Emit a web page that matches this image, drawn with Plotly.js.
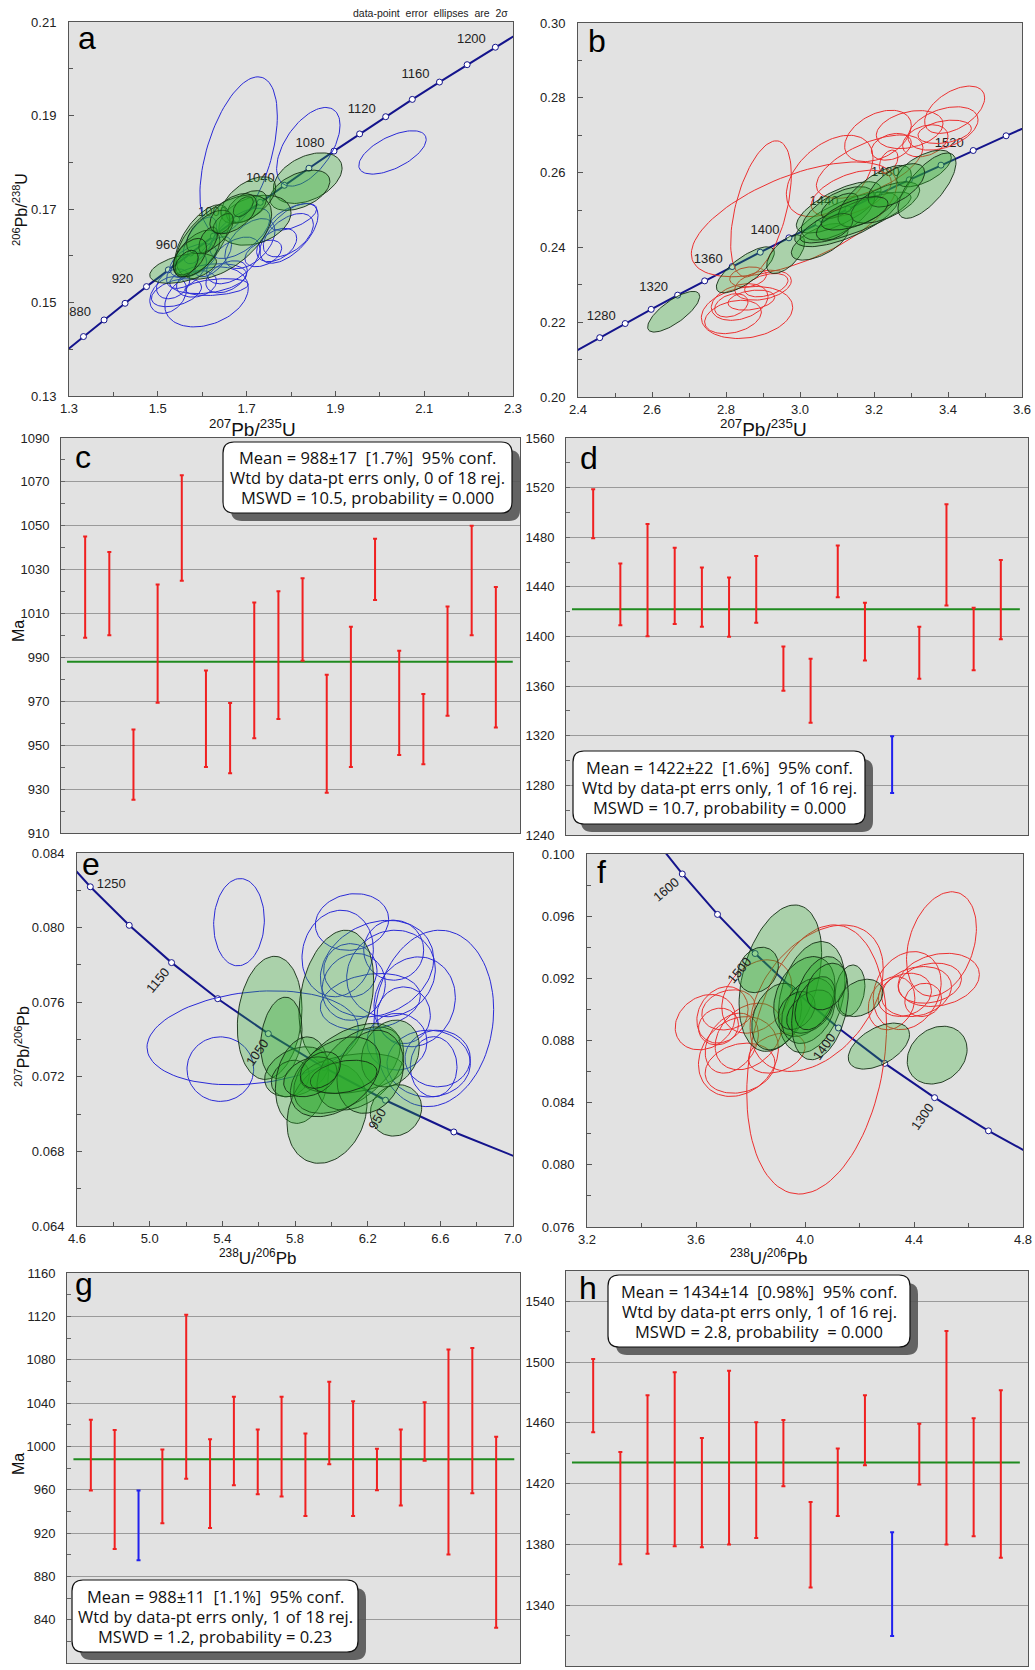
<!DOCTYPE html>
<html><head><meta charset="utf-8">
<script src="https://cdn.plot.ly/plotly-3.0.1.min.js"></script>
<style>html,body{margin:0;padding:0;background:#fff}#chart{width:1035px;height:1670px}</style>
</head><body><div id="chart"></div>
<script>
// ---------------- DATA ----------------
// ellipses: [centre x, centre y, 2s half-width x, 2s half-height y, error correlation]
const aBlue = [
[1.682,0.1815,0.0872,0.01677,0.5],[1.839,0.1833,0.0714,0.00842,0.55],[2.0286,0.1821,0.0759,0.00464,0.6],
[1.6098,0.1512,0.094,0.00642,0.3],[1.5233,0.1516,0.0414,0.00393,0.3],[1.5421,0.1521,0.0564,0.0030,0.4],
[1.6135,0.1551,0.0865,0.00321,0.3],[1.5872,0.1540,0.0451,0.00285,0.2],[1.6549,0.1555,0.0466,0.00343,0.4],
[1.5647,0.1569,0.0451,0.0039,0.5],[1.6699,0.1590,0.0602,0.0050,0.5],[1.7075,0.1626,0.0564,0.00535,0.5],
[1.7955,0.1648,0.0654,0.0064,0.6],[1.794,0.1644,0.0564,0.00464,0.5],[1.7677,0.1623,0.0451,0.00357,0.4],
[1.8053,0.1683,0.0526,0.00285,0.6],[1.6248,0.1598,0.0414,0.0043,0.6],[1.5947,0.1633,0.0376,0.0050,0.6],
[1.5346,0.1540,0.0376,0.0032,0.3],[1.6323,0.1533,0.0714,0.0018,0.3],[1.685,0.1648,0.0677,0.0054,0.6],
[1.7376,0.1605,0.0414,0.00285,0.4],[1.5797,0.1590,0.0526,0.0036,0.5]];
const aGreen = [
[1.8376,0.1766,0.0774,0.00542,0.4],[1.82,0.1740,0.0675,0.0043,0.45],[1.7188,0.1676,0.0812,0.00535,0.3],
[1.7038,0.1719,0.0617,0.0050,0.55],[1.70,0.1705,0.0451,0.00343,0.5],[1.60,0.1632,0.062,0.0077,0.6],
[1.6489,0.1640,0.1075,0.0090,0.55],[1.5571,0.1573,0.0752,0.0032,0.45],[1.5872,0.1605,0.0526,0.0050,0.55],
[1.6173,0.1651,0.0526,0.00464,0.55],[1.6135,0.1633,0.0211,0.00285,0.5],[1.6474,0.1669,0.0226,0.00214,0.5],
[1.6925,0.1705,0.0226,0.00214,0.5],[1.5722,0.1598,0.0376,0.0039,0.5],[1.6699,0.1690,0.0526,0.0043,0.5],
[1.5647,0.1583,0.0263,0.00285,0.45]];
const bRed = [
[2.8946,0.2503,0.0820,0.0182,0.5],[2.9838,0.2475,0.2775,0.01534,0.6],[3.0802,0.2591,0.1171,0.01088,0.45],
[3.2108,0.2698,0.0901,0.00687,0.4],[3.2964,0.2715,0.0901,0.00508,0.3],[3.418,0.2768,0.0811,0.00633,0.5],
[3.3865,0.2718,0.0946,0.0058,0.4],[3.3387,0.2685,0.0613,0.00428,0.3],[3.391,0.2709,0.0721,0.00312,0.3],
[3.2396,0.2629,0.0252,0.00312,0.4],[3.1883,0.2616,0.1441,0.00847,0.6],[2.8568,0.2226,0.1234,0.00696,0.2],
[2.8369,0.2254,0.0766,0.0049,0.3],[2.8144,0.2245,0.045,0.00312,0.3],[2.90,0.2299,0.0766,0.0040,0.3],
[2.8189,0.2214,0.0766,0.00446,0.3],[2.909,0.2299,0.0586,0.00312,0.4],[2.8685,0.2259,0.0631,0.00268,0.3],
[2.8595,0.2321,0.0495,0.00268,0.2],[3.2468,0.2669,0.0541,0.00357,0.3],[3.1387,0.2544,0.1081,0.00624,0.5]];
const bGreen = [
[2.6586,0.2228,0.0703,0.00544,0.75],[2.8523,0.2340,0.0784,0.00616,0.75],[2.9613,0.2382,0.0514,0.00517,0.6],
[3.0532,0.2415,0.0766,0.0049,0.6],[3.1252,0.2475,0.1396,0.00731,0.7],[3.1045,0.2507,0.1144,0.00687,0.7],
[3.1027,0.2491,0.0991,0.00714,0.6],[3.1072,0.2511,0.0495,0.00339,0.6],[3.15,0.2480,0.15,0.0068,0.8],
[3.2018,0.2537,0.0991,0.00821,0.7],[3.2306,0.2520,0.0928,0.00553,0.6],[3.3351,0.2611,0.0739,0.0049,0.6],
[3.3432,0.2565,0.0784,0.00874,0.7],[3.2604,0.2566,0.0766,0.0058,0.6],[3.0937,0.2455,0.0495,0.00357,0.5],
[3.1477,0.2491,0.0901,0.00446,0.6]];
const eBlue = [
[5.4918,0.08029,0.1395,0.00234,0.05],[5.567,0.07409,0.5817,0.00252,0.2],[5.389,0.072411,0.1835,0.00173,0.0],
[6.1138,0.08030,0.2018,0.00152,0.1],[6.0349,0.07861,0.1963,0.00232,0.1],[6.2514,0.0778,0.3119,0.00259,0.2],
[6.3285,0.07754,0.244,0.00232,0.1],[6.5633,0.07513,0.3303,0.00473,0.1],[6.4587,0.07602,0.2239,0.00241,0.1],
[6.3982,0.0753,0.1468,0.00152,0.0],[6.5358,0.07271,0.2294,0.00179,0.0],[6.5853,0.07298,0.1798,0.00152,0.0],
[6.1046,0.07771,0.1468,0.00143,0.0],[6.3615,0.07388,0.1651,0.00152,0.0],[6.5633,0.07254,0.1284,0.00161,0.0],
[6.2147,0.07602,0.2752,0.00152,0.2],[6.3432,0.07879,0.1651,0.00161,0.0],[6.123,0.07682,0.1743,0.00179,0.1]];
const eGreen = [
[5.6606,0.07516,0.178,0.0033,0.15],[6.0276,0.07629,0.2055,0.00357,0.25],[5.7248,0.07409,0.1138,0.00218,0.2],
[5.8092,0.07227,0.1761,0.00134,0.3],[5.7743,0.07191,0.1046,0.00098,0.2],[5.8386,0.07182,0.1468,0.00232,0.2],
[5.9762,0.07004,0.2202,0.00268,0.2],[6.0863,0.07245,0.2936,0.00241,0.5],[6.1138,0.07218,0.2844,0.00107,0.3],
[6.1597,0.07245,0.2385,0.00223,0.4],[6.3248,0.07325,0.1596,0.00179,0.2],[6.356,0.0702,0.1413,0.00138,0.1],
[6.2147,0.07227,0.1835,0.00223,0.2],[6.022,0.072,0.2477,0.00214,0.4],[5.8844,0.072,0.1468,0.00107,0.3],
[6.068,0.072,0.1835,0.00089,0.3],[5.9395,0.07236,0.1101,0.00098,0.3]];
const fRed = [
[4.0428,0.08678,0.2565,0.00866,0.25],[4.0428,0.09072,0.2443,0.00471,0.4],[3.6336,0.08918,0.1099,0.00178,0.2],
[3.6971,0.08965,0.094,0.00182,0.2],[3.7557,0.08697,0.1466,0.00257,0.2],[3.7191,0.08997,0.0977,0.00129,0.2],
[3.8229,0.09083,0.1282,0.00236,0.3],[3.7924,0.08826,0.1221,0.00214,0.3],[3.7618,0.08622,0.1282,0.00161,0.2],
[3.8962,0.08719,0.1038,0.00129,0.3],[3.6825,0.0889,0.0733,0.00118,0.1],[3.7313,0.08783,0.0977,0.00193,0.3],
[4.5008,0.09421,0.1282,0.00336,0.3],[4.375,0.09121,0.1246,0.00251,0.2],[4.4092,0.09115,0.1282,0.00161,0.2],
[4.491,0.0919,0.149,0.00171,0.2],[4.3664,0.09094,0.0977,0.00139,0.2],[4.458,0.09169,0.116,0.00129,0.2],
[4.3176,0.0904,0.0855,0.00171,0.2],[4.4336,0.09061,0.0672,0.00107,0.1]];
const fGreen = [
[3.9096,0.09201,0.1515,0.00471,0.35],[3.8278,0.09254,0.0745,0.00146,0.2],[4.0244,0.09079,0.1221,0.00358,0.3],
[3.8962,0.08954,0.0916,0.00214,0.3],[3.9976,0.09083,0.1124,0.00257,0.3],[4.0122,0.08991,0.0977,0.0021,0.3],
[3.9695,0.08993,0.0672,0.00122,0.3],[4.0183,0.08986,0.0855,0.00139,0.4],[4.1649,0.09121,0.055,0.00165,0.2],
[4.204,0.09074,0.0818,0.0012,0.3],[4.2712,0.08764,0.1124,0.00148,0.5],[4.4849,0.08706,0.1099,0.00186,0.2],
[4.055,0.09008,0.1038,0.00332,0.3],[4.0366,0.0904,0.0733,0.00171,0.4],[4.0794,0.09147,0.0733,0.0015,0.3]];

// concordia ages (Ma)
const aLineAges = [840,860,880,900,920,940,960,980,1000,1020,1040,1060,1080,1100,1120,1140,1160,1180,1200,1220,1240];
const aMarkAges = [860,880,900,920,940,960,980,1000,1020,1040,1060,1080,1100,1120,1140,1160,1180,1200];
const aLabelAges = [880,920,960,1000,1040,1080,1120,1160,1200];
const bLineAges = [1240,1260,1280,1300,1320,1340,1360,1380,1400,1420,1440,1460,1480,1500,1520,1540,1560,1580];
const bMarkAges = [1260,1280,1300,1320,1340,1360,1380,1400,1420,1440,1460,1480,1500,1520,1540];
const bLabelAges = [1280,1320,1360,1400,1440,1480,1520];
const eLineAges = [1300,1250,1200,1150,1100,1050,1000,950,900,850];
const eMarkAges = [1250,1200,1150,1100,1050,1000,950,900];
const eLabelAges = [1250,1150,1050,950];
const fLineAges = [1650,1600,1550,1500,1450,1400,1350,1300,1250,1200];
const fMarkAges = [1600,1550,1500,1450,1400,1350,1300,1250];
const fLabelAges = [1600,1500,1400,1300];

// weighted-mean plots: upper and lower ends of 2s age bars (Ma)
const cTop=[1045.1,1038.1,957.2,1023.2,1073.0,984.1,969.2,1015.0,1020.2,1026.1,982.1,1004.0,1044.1,993.1,973.3,1013.2,1050.0,1022.1];
const cBot=[999.0,1000.1,925.2,969.3,1025.0,940.1,937.2,953.2,962.0,988.5,928.3,940.1,1016.2,945.5,941.3,963.4,1000.1,958.1];
const cRejected=[];
const cMean=988;
const dTop=[1518.6,1458.9,1490.6,1471.5,1455.7,1447.6,1464.8,1391.9,1382.0,1473.4,1427.2,1319.6,1407.8,1506.5,1423.1,1461.6];
const dBot=[1479.1,1409.1,1400.3,1410.0,1407.8,1399.7,1411.0,1356.2,1330.4,1431.7,1380.6,1273.9,1365.9,1425.0,1372.8,1397.8];
const dRejected=[12];
const dMean=1422;
const gTop=[1024.5,1015.0,959.2,997.1,1121.5,1006.6,1045.8,1015.6,1045.8,1011.9,1059.6,1041.7,997.7,1015.6,1040.8,1089.5,1090.7,1008.8];
const gBot=[959.2,905.3,894.9,929.0,970.0,924.7,964.1,955.8,953.7,935.8,983.5,935.8,959.5,945.4,986.6,900.1,956.8,832.6];
const gRejected=[3];
const gMean=988;
const hTop=[1502.1,1440.9,1478.2,1493.3,1450.1,1494.4,1460.4,1461.9,1408.0,1443.1,1478.2,1388.0,1459.5,1520.5,1463.0,1481.5];
const hBot=[1453.8,1366.9,1373.9,1378.8,1378.1,1379.9,1384.3,1418.3,1351.6,1398.7,1432.1,1319.7,1419.4,1379.9,1385.4,1371.3];
const hRejected=[12];
const hMean=1434;

const cBox=['Mean = 988±17  [1.7%]  95% conf.','Wtd by data-pt errs only, 0 of 18 rej.','MSWD = 10.5, probability = 0.000'];
const dBox=['Mean = 1422±22  [1.6%]  95% conf.','Wtd by data-pt errs only, 1 of 16 rej.','MSWD = 10.7, probability = 0.000'];
const gBox=['Mean = 988±11  [1.1%]  95% conf.','Wtd by data-pt errs only, 1 of 18 rej.','MSWD = 1.2, probability = 0.23'];
const hBox=['Mean = 1434±14  [0.98%]  95% conf.','Wtd by data-pt errs only, 1 of 16 rej.','MSWD = 2.8, probability  = 0.000'];

// ---------------- DRAWING ----------------
const W=1035,H=1670;
const FONT='Liberation Sans, Arial, sans-serif';
const BOXFONT='Open Sans, Liberation Sans, Arial, sans-serif';
const BG='#e2e2e2';
const L235=9.8485e-4, L238=1.55125e-4, U85=137.88;
const weth=t=>[Math.expm1(L235*t), Math.expm1(L238*t)];
const tw=t=>{const a=Math.expm1(L238*t), b=Math.expm1(L235*t); return [1/a, b/a/U85];};

const xd=(a,b)=>[a/W,b/W], yd=(a,b)=>[1-b/H,1-a/H];
function baseAxis(dom,range,anchor){return {domain:dom,range,anchor,showgrid:false,zeroline:false,showline:true,mirror:true,linecolor:'#555',linewidth:1,
  tickfont:{family:FONT,size:13,color:'#222'},fixedrange:true};}
function scatAxis(dom,range,anchor,tick0,dtick,mdt,fmt,standoff){return Object.assign(baseAxis(dom,range,anchor),
  {ticks:'inside',ticklen:5,tickcolor:'#555',tick0,dtick,tickformat:fmt,ticklabelstandoff:standoff,minor:{ticks:'inside',ticklen:4,dtick:mdt,tickcolor:'#555'}});}
function barX(dom,range,anchor){return Object.assign(baseAxis(dom,range,anchor),{showticklabels:false,ticks:''});}
function barY(dom,range,anchor,tick0,dtick){return Object.assign(baseAxis(dom,range,anchor),
  {showgrid:true,gridcolor:'#9a9a9a',gridwidth:1,ticks:'inside',ticklen:4,tickcolor:'#666',tick0,dtick,ticklabelstandoff:8,
   minor:{ticks:'inside',ticklen:4,dtick:dtick/2,tickcolor:'#666',showgrid:false}});}

const layout={width:W,height:H,margin:{l:0,r:0,t:0,b:0},paper_bgcolor:'#ffffff',plot_bgcolor:BG,showlegend:false,
  xaxis: scatAxis(xd(69,513),[1.3,2.3],'y',1.3,0.2,0.1,'.1f',0),
  yaxis: scatAxis(yd(22,396),[0.13,0.21],'x',0.13,0.02,0.01,'.2f',9),
  xaxis2:scatAxis(xd(578,1022),[2.4,3.6],'y2',2.4,0.2,0.1,'.1f',0),
  yaxis2:scatAxis(yd(23,397),[0.20,0.30],'x2',0.20,0.02,0.01,'.2f',9),
  xaxis3:barX(xd(61,520),[0,19],'y3'),
  yaxis3:barY(yd(438,833),[910,1090],'x3',910,20),
  xaxis4:barX(xd(566,1028),[0,17],'y4'),
  yaxis4:barY(yd(438,835),[1240,1560],'x4',1240,40),
  xaxis5:scatAxis(xd(77,513),[4.6,7.0],'y5',4.6,0.4,0.2,'.1f',0),
  yaxis5:scatAxis(yd(853,1226),[0.064,0.084],'x5',0.064,0.004,0.002,'.3f',9),
  xaxis6:scatAxis(xd(587,1023),[3.2,4.8],'y6',3.2,0.4,0.2,'.1f',0),
  yaxis6:scatAxis(yd(854,1227),[0.076,0.100],'x6',0.076,0.004,0.002,'.3f',9),
  xaxis7:barX(xd(67,520),[0,19],'y7'),
  yaxis7:barY(yd(1273,1663),[800,1160],'x7',800,40),
  xaxis8:barX(xd(566,1028),[0,17],'y8'),
  yaxis8:barY(yd(1271,1666),[1300,1560],'x8',1300,40)};

function ellipsePath(e){const [cx,cy,sx,sy,r]=e; const q=Math.sqrt(1-r*r); const xs=[],ys=[];
  for(let i=0;i<=96;i++){const t=i/96*2*Math.PI; xs.push(cx+sx*Math.cos(t)); ys.push(cy+sy*(r*Math.cos(t)+q*Math.sin(t)));}
  return [xs,ys];}
function outlineTrace(list,color,xa,ya){const X=[],Y=[];
  list.forEach(e=>{const [xs,ys]=ellipsePath(e); X.push(...xs,null); Y.push(...ys,null);});
  return {type:'scatter',mode:'lines',x:X,y:Y,xaxis:xa,yaxis:ya,line:{color,width:1},hoverinfo:'skip',showlegend:false};}
function greenTraces(list,xa,ya){return list.map(e=>{const [xs,ys]=ellipsePath(e);
  return {type:'scatter',mode:'lines',x:xs,y:ys,xaxis:xa,yaxis:ya,fill:'toself',fillcolor:'rgba(40,170,40,0.3)',
  line:{color:'rgba(20,45,20,0.9)',width:1},hoverinfo:'skip',showlegend:false};});}
function concTraces(lineAges,markAges,fn,xa,ya){const L=lineAges.map(fn), M=markAges.map(fn);
  return [{type:'scatter',mode:'lines',x:L.map(p=>p[0]),y:L.map(p=>p[1]),xaxis:xa,yaxis:ya,line:{color:'#14148c',width:2},hoverinfo:'skip',showlegend:false},
  {type:'scatter',mode:'markers',x:M.map(p=>p[0]),y:M.map(p=>p[1]),xaxis:xa,yaxis:ya,marker:{size:6,color:'#ffffff',line:{color:'#14148c',width:1}},hoverinfo:'skip',showlegend:false}];}
// horizontal age labels, placed at a pixel offset from their concordia point (drawn under the ellipses)
function pxScale(xa,ya){const X=layout['xaxis'+(xa==='x'?'':xa.slice(1))], Y=layout['yaxis'+(ya==='y'?'':ya.slice(1))];
  return [(X.range[1]-X.range[0])/((X.domain[1]-X.domain[0])*W), (Y.range[1]-Y.range[0])/((Y.domain[1]-Y.domain[0])*H)];}
function labelTrace(ages,dx,dy,fn,xa,ya){const [kx,ky]=pxScale(xa,ya); const P=ages.map(fn);
  return {type:'scatter',mode:'text',x:P.map(p=>p[0]+dx*kx),y:P.map(p=>p[1]-dy*ky),text:ages.map(String),textposition:'middle center',
  textfont:{family:FONT,size:13,color:'#222'},xaxis:xa,yaxis:ya,hoverinfo:'skip',showlegend:false};}
function barTraces(top,bot,rej,xa,ya){const acc={x:[],y:[],p:[],m:[]}, rj={x:[],y:[],p:[],m:[]};
  top.forEach((t,i)=>{const b=bot[i], mid=(t+b)/2; const o=rej.includes(i+1)?rj:acc; o.x.push(i+1); o.y.push(mid); o.p.push(t-mid); o.m.push(mid-b);});
  const mk=(o,c)=>({type:'scatter',mode:'markers',x:o.x,y:o.y,xaxis:xa,yaxis:ya,marker:{size:2,color:'rgba(0,0,0,0)'},
    error_y:{type:'data',symmetric:false,array:o.p,arrayminus:o.m,color:c,thickness:2,width:2},hoverinfo:'skip',showlegend:false});
  return [mk(acc,'#f02020'),mk(rj,'#2020ee')];}
function meanLine(m,x0,x1,xa,ya){return {type:'scatter',mode:'lines',x:[x0,x1],y:[m,m],xaxis:xa,yaxis:ya,line:{color:'#1f8a1f',width:2},hoverinfo:'skip',showlegend:false};}

const traces=[];
// panel a
traces.push(labelTrace(aLabelAges,-24,-7,weth,'x','y'));
traces.push(...concTraces(aLineAges,aMarkAges,weth,'x','y'));
traces.push(outlineTrace(aBlue,'#2a2ad6','x','y'));
traces.push(...greenTraces(aGreen,'x','y'));
// panel b
traces.push(labelTrace(bLabelAges,-24,-7,weth,'x2','y2'));
traces.push(...concTraces(bLineAges,bMarkAges,weth,'x2','y2'));
traces.push(outlineTrace(bRed,'#ec3030','x2','y2'));
traces.push(...greenTraces(bGreen,'x2','y2'));
// panel e
traces.push(labelTrace(eLabelAges.slice(0,1),21,-2,tw,'x5','y5'));
traces.push(...concTraces(eLineAges,eMarkAges,tw,'x5','y5'));
traces.push(outlineTrace(eBlue,'#2a2ad6','x5','y5'));
traces.push(...greenTraces(eGreen,'x5','y5'));
// panel f
traces.push(...concTraces(fLineAges,fMarkAges,tw,'x6','y6'));
traces.push(outlineTrace(fRed,'#ec3030','x6','y6'));
traces.push(...greenTraces(fGreen,'x6','y6'));
// weighted means
traces.push(meanLine(cMean,0.25,18.7,'x3','y3'), ...barTraces(cTop,cBot,cRejected,'x3','y3'));
traces.push(meanLine(dMean,0.22,16.7,'x4','y4'), ...barTraces(dTop,dBot,dRejected,'x4','y4'));
traces.push(meanLine(gMean,0.27,18.76,'x7','y7'), ...barTraces(gTop,gBot,gRejected,'x7','y7'));
traces.push(meanLine(hMean,0.22,16.7,'x8','y8'), ...barTraces(hTop,hBot,hRejected,'x8','y8'));

const shapes=[], annotations=[];
// rotated age labels on the Tera-Wasserburg concordias
function rotLabels(ages,offs,fn,xr,yr){ages.forEach((a,i)=>{const p=fn(a), o=offs[i];
  annotations.push({xref:xr,yref:yr,x:p[0],y:p[1],xshift:o[0],yshift:-o[1],textangle:o[2],showarrow:false,xanchor:'center',yanchor:'middle',
  text:String(a),font:{family:FONT,size:13,color:'#222'}});});}
rotLabels(eLabelAges.slice(1),[[-14,18,-50],[-11,19,-55],[-8,18,-60]],tw,'x5','y5');
rotLabels(fLabelAges,[[-16,16,-40],[-16,17,-50],[-14,19,-55],[-12,19,-55]],tw,'x6','y6');

function rr(x0,y0,x1,y1,r){const X=v=>(v/W).toFixed(5), Y=v=>(1-v/H).toFixed(5);
  return `M${X(x0+r)},${Y(y0)} L${X(x1-r)},${Y(y0)} Q${X(x1)},${Y(y0)} ${X(x1)},${Y(y0+r)} L${X(x1)},${Y(y1-r)} Q${X(x1)},${Y(y1)} ${X(x1-r)},${Y(y1)} L${X(x0+r)},${Y(y1)} Q${X(x0)},${Y(y1)} ${X(x0)},${Y(y1-r)} L${X(x0)},${Y(y0+r)} Q${X(x0)},${Y(y0)} ${X(x0+r)},${Y(y0)} Z`;}
function meanBox(lines,x0,y0,x1,y1){
  shapes.push({type:'path',xref:'paper',yref:'paper',layer:'above',path:rr(x0+8,y0+8,x1+8,y1+8,11),fillcolor:'rgba(85,85,85,0.9)',line:{width:0}});
  shapes.push({type:'path',xref:'paper',yref:'paper',layer:'above',path:rr(x0,y0,x1,y1,11),fillcolor:'#ffffff',line:{color:'#111',width:1.2}});
  const cy=(y0+y1)/2;
  lines.forEach((s,i)=>annotations.push({xref:'paper',yref:'paper',x:(x0+x1)/2/W,y:1-(cy+(i-1)*20)/H,xanchor:'center',yanchor:'middle',showarrow:false,
    text:s.replace(/ /g,'\u00a0'),font:{family:BOXFONT,size:16.5,color:'#111'}}));}
meanBox(cBox,223,442,512,513);
meanBox(dBox,573,751,865,824);
meanBox(gBox,72,1580,358,1652);
meanBox(hBox,608,1275,910,1347);

function ann(text,px,py,size,opts){annotations.push(Object.assign({xref:'paper',yref:'paper',x:px/W,y:1-py/H,xanchor:'center',yanchor:'middle',showarrow:false,text,font:{family:FONT,size,color:'#111'}},opts||{}));}
ann('data-point\u00a0 error\u00a0 ellipses\u00a0 are\u00a0 2σ',430,13,10,{font:{family:'Liberation Sans Narrow, Arial Narrow, Liberation Sans, Arial',size:10.5,color:'#222'}});
[['a',76,38],['b',586,41],['c',73,457],['d',578,458],['e',80,864],['f',595,872],['g',73,1284],['h',577,1288]].forEach(l=>ann(l[0],l[1],l[2],32,{xanchor:'left',font:{family:FONT,size:32,color:'#000'}}));
ann('<sup>207</sup>Pb/<sup>235</sup>U',252,428,19);
ann('<sup>207</sup>Pb/<sup>235</sup>U',763,428,19);
ann('<sup>238</sup>U/<sup>206</sup>Pb',257,1257,17);
ann('<sup>238</sup>U/<sup>206</sup>Pb',768,1257,17);
ann('<sup>206</sup>Pb/<sup>238</sup>U',20,210,16,{textangle:-90});
ann('<sup>207</sup>Pb/<sup>206</sup>Pb',22,1047,16,{textangle:-90});
ann('Ma',18,631,16,{textangle:-90});
ann('Ma',18,1464,16,{textangle:-90});

layout.shapes=shapes; layout.annotations=annotations;
Plotly.newPlot('chart',traces,layout,{staticPlot:true,displayModeBar:false});
</script></body></html>
